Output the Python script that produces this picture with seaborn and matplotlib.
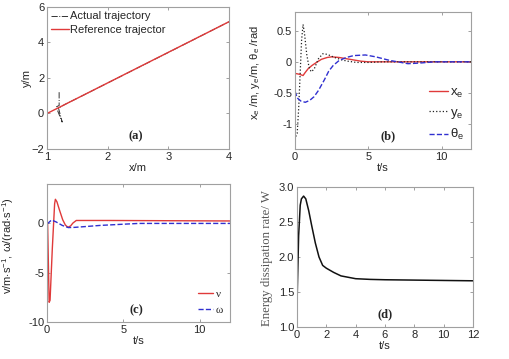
import numpy as np
import pandas as pd
import seaborn as sns
import matplotlib.pyplot as plt

# ------- data -------

# (a) trajectory in the plane
ref_x = [1.0, 4.0]
ref_y = [0.0, 5.17]
act_x = [1.2, 1.2, 1.15, 1.25, 1.19, 1.3, 1.6, 2.0, 3.0, 4.0]
act_y = [1.2, 0.45, 0.37, -0.48, 0.3, 0.52, 1.03, 1.72, 3.44, 5.17]

# (b) tracking errors
xe_t = [0.0, 0.1, 0.3, 0.55, 0.7, 0.9, 1.15, 1.4, 1.8, 2.2, 2.5, 3.0, 3.5, 4.0, 4.5, 5.0, 6.0, 8.0, 10.0, 12.0]
xe = [-0.19, -0.19, -0.2, -0.22, -0.17, -0.11, -0.06, -0.02, 0.04, 0.07, 0.08, 0.07, 0.05, 0.03, 0.01, 0.0, 0.0, 0.0, 0.0, 0.0]
ye_t = [0.05, 0.15, 0.25, 0.35, 0.45, 0.55, 0.65, 0.8, 0.95, 1.1, 1.3, 1.6, 1.9, 2.2, 2.7, 3.2, 3.6, 4.2, 5.0, 6.0, 8.0, 10.0, 12.0]
ye = [-1.2, -1.15, -0.75, -0.2, 0.35, 0.6, 0.45, 0.12, -0.08, -0.16, -0.12, 0.05, 0.13, 0.12, 0.07, 0.03, 0.01, -0.01, -0.01, 0.0, 0.0, 0.0, 0.0]
th_t = [0.0, 0.15, 0.4, 0.7, 1.0, 1.3, 1.6, 2.0, 2.3, 2.6, 3.0, 3.5, 4.0, 4.8, 5.5, 6.0, 6.5, 7.0, 7.7, 8.5, 9.5, 10.5, 12.0]
th_e = [-0.47, -0.58, -0.63, -0.65, -0.62, -0.56, -0.46, -0.29, -0.15, -0.06, 0.02, 0.07, 0.10, 0.11, 0.08, 0.05, 0.02, 0.0, -0.03, -0.02, 0.0, 0.0, 0.0]

# (c) control inputs
v_t = [0.0, 0.04, 0.14, 0.2, 0.35, 0.5, 0.55, 0.65, 0.81, 1.03, 1.2, 1.37, 1.55, 1.7, 1.92, 2.2, 4.0, 12.0]
v = [0.0, 0.0, -8.0, -7.8, -2.5, 2.0, 2.45, 2.2, 1.4, 0.37, -0.15, -0.4, -0.25, 0.04, 0.3, 0.3, 0.3, 0.25]
w_t = [0.0, 0.05, 0.3, 0.6, 1.0, 1.4, 1.8, 2.5, 3.5, 5.0, 6.0, 8.0, 12.0]
w = [0.0, 0.0, 0.35, 0.15, -0.2, -0.42, -0.4, -0.32, -0.2, -0.08, 0.0, 0.0, 0.0]

# (d) energy dissipation rate
p_t = [0.0, 0.11, 0.22, 0.3, 0.45, 0.6, 0.8, 1.0, 1.25, 1.5, 1.75, 2.0, 2.5, 3.0, 3.5, 4.0, 5.0, 6.0, 8.0, 10.0, 12.0]
p = [1.32, 2.3, 2.74, 2.83, 2.87, 2.83, 2.66, 2.45, 2.2, 2.0, 1.88, 1.84, 1.78, 1.73, 1.71, 1.69, 1.68, 1.675, 1.67, 1.665, 1.66]

RED = '#e03a3a'
BLUE = '#3030d0'

# ------- style -------
sns.set_style("ticks")
plt.rcParams['font.family'] = ['Liberation Sans', 'DejaVu Sans']
plt.rcParams['font.size'] = 8
plt.rcParams['mathtext.fontset'] = 'custom'
plt.rcParams['mathtext.rm'] = 'Liberation Sans'
plt.rcParams['mathtext.it'] = 'Liberation Sans:italic'
plt.rcParams['mathtext.default'] = 'regular'

fig = plt.figure(figsize=(5.09, 3.59), dpi=100)
W, H = 509, 359


def make_ax(left, top, right, bottom):
    ax = fig.add_axes([left / W, (H - bottom) / H, (right - left) / W, (bottom - top) / H])
    for s in ax.spines.values():
        s.set_color('#a0a0a0')
        s.set_linewidth(0.8)
    ax.tick_params(direction='in', length=2.5, width=0.6, color='#909090',
                   top=True, right=True, labelsize=8, pad=2)
    return ax


def tag(ax, txt, x, y):
    ax.text(x, y, txt, transform=ax.transAxes, ha='center', va='center',
            fontsize=9, fontweight='bold', family='Liberation Serif')


# ------- (a) -------
ax = make_ax(47, 7, 229, 149)
sns.lineplot(x=act_x, y=act_y, ax=ax, color='#333333', linestyle='-.', lw=0.7,
             sort=False, estimator=None, label='Actual trajectory')
sns.lineplot(x=ref_x, y=ref_y, ax=ax, color=RED, lw=1.0,
             sort=False, estimator=None, label='Reference trajector')
ax.set_xlim(1, 4)
ax.set_ylim(-2, 6)
ax.set_xticks([1, 2, 3, 4])
ax.set_yticks([-2, 0, 2, 4, 6])
ax.set_xlabel('x/m', labelpad=1)
ax.set_ylabel('y/m')
ax.yaxis.set_label_coords(-0.085, 0.5)
ax.legend(loc='upper left', frameon=False, fontsize=8, handlelength=1.6,
          handletextpad=0.1, labelspacing=0.3, borderaxespad=0.2, borderpad=0.2)
tag(ax, '(a)', 0.49, 0.09)

# ------- (b) -------
ax = make_ax(295, 12, 471, 149)
sns.lineplot(x=xe_t, y=xe, ax=ax, color=RED, lw=1.0, estimator=None, label='$x_e$')
sns.lineplot(x=ye_t, y=ye, ax=ax, color='#222222', linestyle=':', lw=0.9, estimator=None, label='$y_e$')
sns.lineplot(x=th_t, y=th_e, ax=ax, color=BLUE, linestyle='--', lw=1.0, estimator=None, label=r'$\theta_e$')
ax.set_xlim(0, 12)
ax.set_ylim(-1.4, 0.8)
ax.set_xticks([0, 5, 10])
ax.set_yticks([-1, -0.5, 0, 0.5])
ax.set_yticklabels(['-1', '-0.5', '0', '0.5'])
ax.set_xlabel('t/s', labelpad=1)
ax.set_ylabel(r'x$_e$ /m, y$_e$/m, $\theta_e$ /rad')
ax.yaxis.set_label_coords(-0.19, 0.56)
ax.legend(loc='lower right', frameon=False, fontsize=9.5, handlelength=1.4,
          handletextpad=0.2, labelspacing=0.5, borderaxespad=0.1)
tag(ax, '(b)', 0.53, 0.095)

# ------- (c) -------
ax = make_ax(47, 184, 230, 322)
sns.lineplot(x=v_t, y=v, ax=ax, color=RED, lw=1.0, estimator=None, label='ν')
sns.lineplot(x=w_t, y=w, ax=ax, color=BLUE, linestyle='--', lw=1.0, estimator=None, label='ω')
ax.set_xlim(0, 12)
ax.set_ylim(-10, 4)
ax.set_xticks([0, 5, 10])
ax.set_yticks([-10, -5, 0])
ax.set_yticklabels(['-10', '-5', '0'])
ax.set_xlabel('t/s', labelpad=1)
ax.set_ylabel(r'v/m$\cdot$s$^{-1}$, ω/(rad$\cdot$s$^{-1}$)')
ax.yaxis.set_label_coords(-0.17, 0.55)
leg = ax.legend(loc='lower right', frameon=False, fontsize=8, handlelength=1.3,
                handletextpad=0.3, labelspacing=0.6, borderaxespad=0.2)
for t in leg.get_texts():
    t.set_family('Liberation Serif')
tag(ax, '(c)', 0.49, 0.087)

# ------- (d) -------
ax = make_ax(297, 187, 473, 327)
sns.lineplot(x=p_t, y=p, ax=ax, color='#111111', lw=1.1, estimator=None)
ax.set_xlim(0, 12)
ax.set_ylim(1.0, 3.0)
ax.set_xticks(np.arange(0, 13, 2))
ax.set_yticks([1.0, 1.5, 2.0, 2.5, 3.0])
ax.set_yticklabels(['1.0', '1.5', '2.0', '2.5', '3.0'])
ax.set_xlabel('t/s', labelpad=1)
ax.set_ylabel('Energy dissipation rate/ W', family='Liberation Serif',
              fontsize=9.2, color='#555555')
ax.yaxis.set_label_coords(-0.138, 0.49)
tag(ax, '(d)', 0.5, 0.093)

fig.savefig('out.png', dpi=100)
